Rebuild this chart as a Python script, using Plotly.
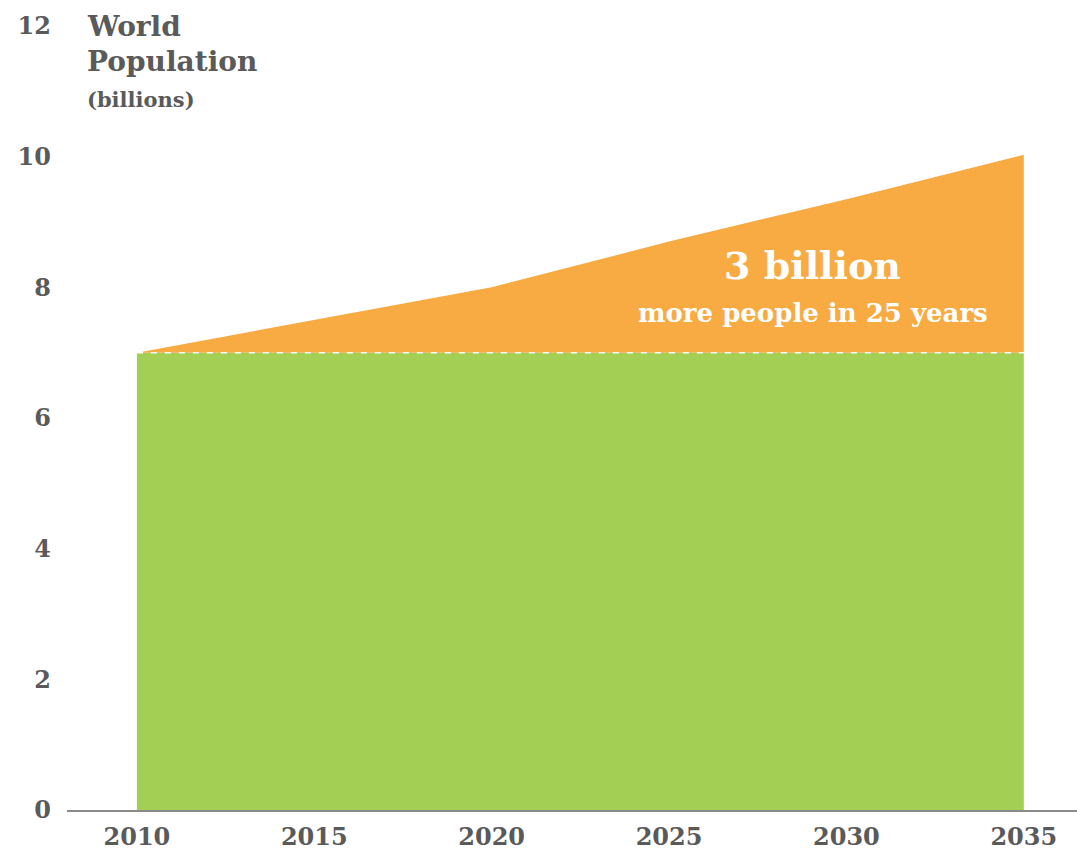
import plotly.graph_objects as go

# World population (billions), 2010-2035
years = [2010, 2015, 2020, 2025, 2030, 2035]
population = [7.0, 7.5, 8.0, 8.7, 9.35, 10.03]
baseline = [7.0, 7.0, 7.0, 7.0, 7.0, 7.0]

y_ticks = [0, 2, 4, 6, 8, 10, 12]
x_ticks = [2010, 2015, 2020, 2025, 2030, 2035]

GREEN = "#A3CF55"
ORANGE = "#F7AB42"
GRAY = "#5a5a5a"
FONT = "DejaVu Serif"

fig = go.Figure()

# green base: 2010 population level
fig.add_trace(go.Scatter(
    x=years, y=baseline, mode="lines", line=dict(width=0),
    fill="tozeroy", fillcolor=GREEN, hoverinfo="skip", showlegend=False,
))
# orange growth above the 2010 level
fig.add_trace(go.Scatter(
    x=years, y=population, mode="lines", line=dict(width=0, color=ORANGE),
    fill="tonexty", fillcolor=ORANGE, hoverinfo="skip", showlegend=False,
))
# dashed divider at the 2010 level
fig.add_trace(go.Scatter(
    x=[years[0], years[-1]], y=[baseline[0], baseline[-1]], mode="lines",
    line=dict(color="white", width=1.5, dash="6px,8px"),
    hoverinfo="skip", showlegend=False,
))

fig.add_annotation(
    x=2029.05, y=8.33, xref="x", yref="y", text="<b>3 billion</b>", showarrow=False,
    font=dict(family=FONT, size=38, color="white"),
)
fig.add_annotation(
    x=2029.05, y=7.6, xref="x", yref="y", text="<b>more people in 25 years</b>",
    showarrow=False, font=dict(family=FONT, size=26, color="white"),
)

title_x = (85 - 67) / (1077 - 67)
fig.add_annotation(
    x=title_x, y=12, xref="paper", yref="y", xanchor="left", yanchor="middle",
    text="<b>World</b>", showarrow=False, align="left",
    font=dict(family=FONT, size=28, color=GRAY),
)
fig.add_annotation(
    x=title_x, y=11.45, xref="paper", yref="y", xanchor="left", yanchor="middle",
    text="<b>Population</b>", showarrow=False, align="left",
    font=dict(family=FONT, size=28, color=GRAY),
)
fig.add_annotation(
    x=title_x, y=10.88, xref="paper", yref="y", xanchor="left", yanchor="middle",
    text="<b>(billions)</b>", showarrow=False, align="left",
    font=dict(family=FONT, size=21, color=GRAY),
)

fig.update_xaxes(
    range=[2008.03, 2036.5], tickvals=x_ticks,
    ticktext=[f"<b>{v}</b>" for v in x_ticks],
    showgrid=False, zeroline=False, showline=True, linecolor="#8a8a8a", linewidth=2,
    ticks="", tickfont=dict(family=FONT, size=24, color=GRAY), ticklabelstandoff=4,
)
fig.update_yaxes(
    range=[0, 12], tickvals=y_ticks, ticktext=[f"<b>{v}</b>" for v in y_ticks],
    showgrid=False, zeroline=False, showline=False, ticks="",
    tickfont=dict(family=FONT, size=24, color=GRAY), ticklabelstandoff=15,
)

fig.update_layout(
    width=1077, height=851,
    margin=dict(l=67, r=0, t=26, b=39),
    paper_bgcolor="white", plot_bgcolor="white",
)

fig.write_html("out.html")
